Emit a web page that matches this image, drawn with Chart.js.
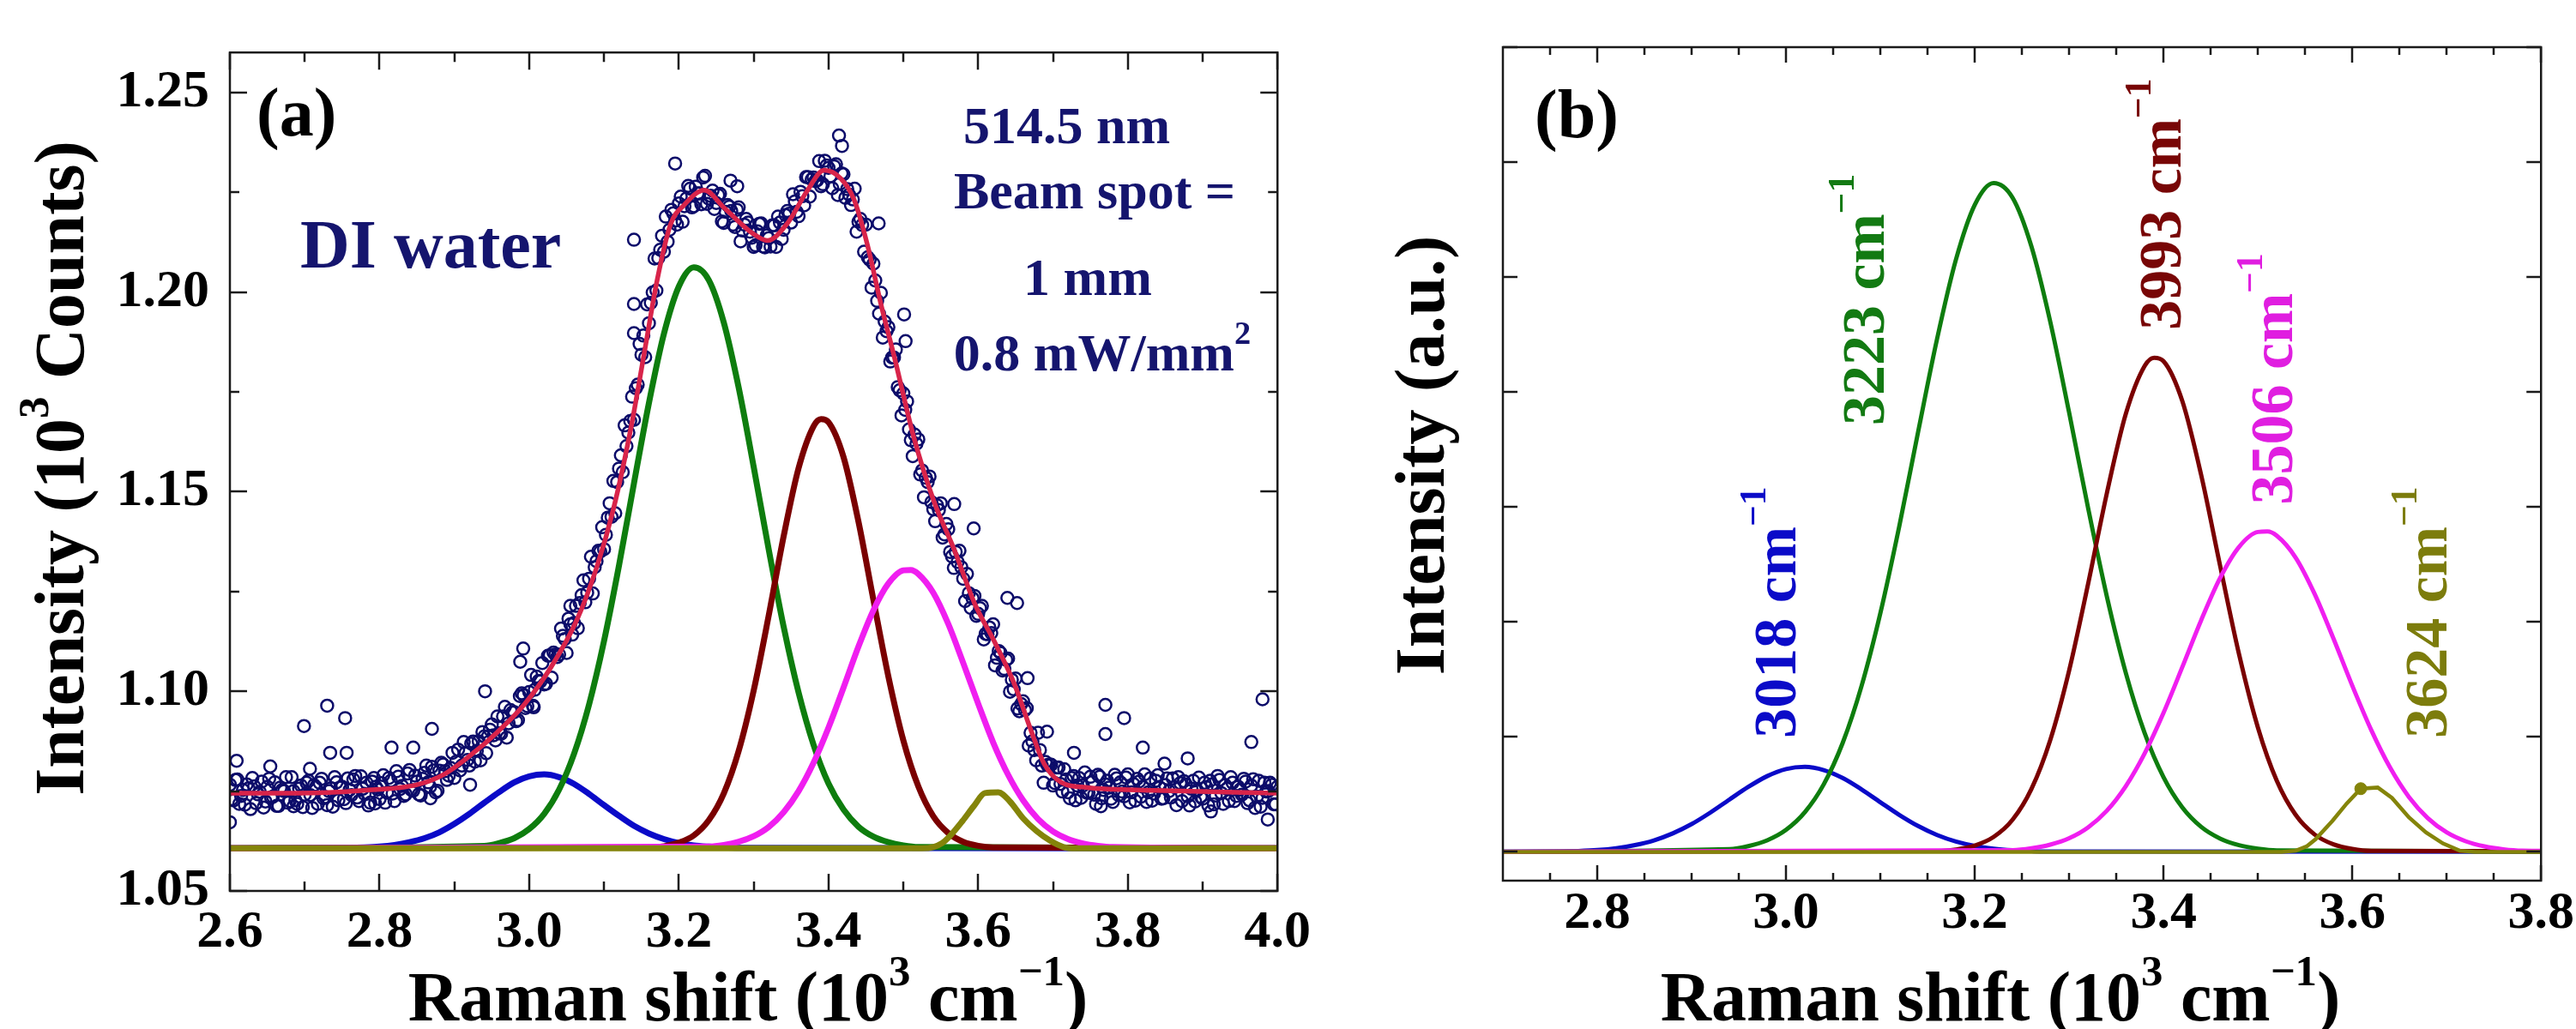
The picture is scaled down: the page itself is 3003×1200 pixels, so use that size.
<!DOCTYPE html>
<html>
<head>
<meta charset="utf-8">
<script src="https://cdn.jsdelivr.net/npm/chart.js@4.4.1/dist/chart.umd.min.js"></script>
<style>
  html, body { margin: 0; padding: 0; background: #fff; }
  #wrap { position: relative; width: 3003px; height: 1200px; }
  canvas { position: absolute; top: 0; }
  #chartA { left: 0; }
  #chartB { left: 1540px; }
</style>
</head>
<body>
<div id="wrap">
  <canvas id="chartA" width="1540" height="1200"></canvas>
  <canvas id="chartB" width="1463" height="1200"></canvas>
</div>
<script>
// ---- measured spectrum, panel (a) ----
var dataX = [
  2.600, 2.605, 2.610, 2.615, 2.620, 2.625, 2.630, 2.635, 2.640, 2.645,
  2.650, 2.655, 2.660, 2.665, 2.670, 2.675, 2.680, 2.685, 2.690, 2.695,
  2.700, 2.705, 2.710, 2.715, 2.720, 2.725, 2.730, 2.735, 2.740, 2.745,
  2.750, 2.755, 2.760, 2.765, 2.770, 2.775, 2.780, 2.785, 2.790, 2.795,
  2.800, 2.805, 2.810, 2.815, 2.820, 2.825, 2.830, 2.835, 2.840, 2.845,
  2.850, 2.855, 2.860, 2.865, 2.870, 2.875, 2.880, 2.885, 2.890, 2.895,
  2.900, 2.905, 2.910, 2.915, 2.920, 2.925, 2.930, 2.935, 2.940, 2.945,
  2.950, 2.955, 2.960, 2.965, 2.970, 2.975, 2.980, 2.985, 2.990, 2.995,
  3.000, 3.005, 3.010, 3.015, 3.020, 3.025, 3.030, 3.035, 3.040, 3.045,
  3.050, 3.055, 3.060, 3.065, 3.070, 3.075, 3.080, 3.085, 3.090, 3.095,
  3.100, 3.105, 3.110, 3.115, 3.120, 3.125, 3.130, 3.135, 3.140, 3.145,
  3.150, 3.155, 3.160, 3.165, 3.170, 3.175, 3.180, 3.185, 3.190, 3.195,
  3.200, 3.205, 3.210, 3.215, 3.220, 3.225, 3.230, 3.235, 3.240, 3.245,
  3.250, 3.255, 3.260, 3.265, 3.270, 3.275, 3.280, 3.285, 3.290, 3.295,
  3.300, 3.305, 3.310, 3.315, 3.320, 3.325, 3.330, 3.335, 3.340, 3.345,
  3.350, 3.355, 3.360, 3.365, 3.370, 3.375, 3.380, 3.385, 3.390, 3.395,
  3.400, 3.405, 3.410, 3.415, 3.420, 3.425, 3.430, 3.435, 3.440, 3.445,
  3.450, 3.455, 3.460, 3.465, 3.470, 3.475, 3.480, 3.485, 3.490, 3.495,
  3.500, 3.505, 3.510, 3.515, 3.520, 3.525, 3.530, 3.535, 3.540, 3.545,
  3.550, 3.555, 3.560, 3.565, 3.570, 3.575, 3.580, 3.585, 3.590, 3.595,
  3.600, 3.605, 3.610, 3.615, 3.620, 3.625, 3.630, 3.635, 3.640, 3.645,
  3.650, 3.655, 3.660, 3.665, 3.670, 3.675, 3.680, 3.685, 3.690, 3.695,
  3.700, 3.705, 3.710, 3.715, 3.720, 3.725, 3.730, 3.735, 3.740, 3.745,
  3.750, 3.755, 3.760, 3.765, 3.770, 3.775, 3.780, 3.785, 3.790, 3.795,
  3.800, 3.805, 3.810, 3.815, 3.820, 3.825, 3.830, 3.835, 3.840, 3.845,
  3.850, 3.855, 3.860, 3.865, 3.870, 3.875, 3.880, 3.885, 3.890, 3.895,
  3.900, 3.905, 3.910, 3.915, 3.920, 3.925, 3.930, 3.935, 3.940, 3.945,
  3.950, 3.955, 3.960, 3.965, 3.970, 3.975, 3.980, 3.985, 3.990, 3.995,
  4.000
];
var dataY = [
  1.0766, 1.0727, 1.0779, 1.0738, 1.0716, 1.0757, 1.0783, 1.0720, 1.0748, 1.0709,
  1.0761, 1.0734, 1.0772, 1.0713, 1.0753, 1.0785, 1.0725, 1.0750, 1.0718, 1.0764,
  1.0741, 1.0776, 1.0708, 1.0760, 1.0771, 1.0732, 1.0715, 1.0757, 1.0785, 1.0727,
  1.0761, 1.0720, 1.0753, 1.0779, 1.0734, 1.0787, 1.0743, 1.0714, 1.0774, 1.0761,
  1.0730, 1.0790, 1.0746, 1.0776, 1.0725, 1.0786, 1.0763, 1.0742, 1.0803, 1.0751,
  1.0774, 1.0739, 1.0796, 1.0772, 1.0811, 1.0747, 1.0801, 1.0817, 1.0778, 1.0808,
  1.0783, 1.0854, 1.0814, 1.0846, 1.0814, 1.0874, 1.0851, 1.0827, 1.0887, 1.0887,
  1.0917, 1.0877, 1.0895, 1.0937, 1.0884, 1.0953, 1.0948, 1.0928, 1.0995, 1.0958,
  1.0998, 1.0964, 1.1037, 1.1025, 1.1017, 1.1089, 1.1034, 1.1092, 1.1092, 1.1139,
  1.1096, 1.1168, 1.1171, 1.1158, 1.1241, 1.1223, 1.1282, 1.1245, 1.1326, 1.1350,
  1.1356, 1.1435, 1.1437, 1.1446, 1.1558, 1.1549, 1.1614, 1.1677, 1.1680, 1.1768,
  1.1843, 1.1837, 1.1922, 1.1999, 1.2004, 1.2106, 1.2101, 1.2126, 1.2206, 1.2179,
  1.2222, 1.2176, 1.2234, 1.2259, 1.2215, 1.2247, 1.2220, 1.2291, 1.2234, 1.2254,
  1.2223, 1.2246, 1.2173, 1.2218, 1.2203, 1.2163, 1.2212, 1.2154, 1.2183, 1.2151,
  1.2113, 1.2152, 1.2172, 1.2112, 1.2135, 1.2167, 1.2113, 1.2174, 1.2156, 1.2203,
  1.2174, 1.2227, 1.2190, 1.2240, 1.2288, 1.2239, 1.2287, 1.2280, 1.2265, 1.2329,
  1.2311, 1.2260, 1.2320, 1.2271, 1.2295, 1.2258, 1.2218, 1.2259, 1.2176, 1.2168,
  1.2169, 1.2081, 1.2071, 1.1978, 1.1998, 1.1926, 1.1912, 1.1836, 1.1856, 1.1754,
  1.1746, 1.1726, 1.1629, 1.1643, 1.1631, 1.1553, 1.1535, 1.1538, 1.1456, 1.1466,
  1.1471, 1.1393, 1.1406, 1.1338, 1.1349, 1.1352, 1.1282, 1.1294, 1.1209, 1.1239,
  1.1194, 1.1214, 1.1144, 1.1160, 1.1168, 1.1084, 1.1096, 1.1056, 1.1082, 1.1029,
  1.1032, 1.0950, 1.0975, 1.0958, 1.0896, 1.0853, 1.0896, 1.0814, 1.0823, 1.0817,
  1.0764, 1.0809, 1.0768, 1.0805, 1.0747, 1.0783, 1.0727, 1.0783, 1.0764, 1.0746,
  1.0786, 1.0741, 1.0791, 1.0732, 1.0767, 1.0759, 1.0723, 1.0782, 1.0772, 1.0737,
  1.0792, 1.0747, 1.0726, 1.0774, 1.0761, 1.0723, 1.0782, 1.0744, 1.0790, 1.0731,
  1.0765, 1.0750, 1.0782, 1.0715, 1.0770, 1.0775, 1.0737, 1.0756, 1.0724, 1.0784,
  1.0731, 1.0760, 1.0776, 1.0717, 1.0788, 1.0745, 1.0765, 1.0725, 1.0771, 1.0738,
  1.0754, 1.0781, 1.0720, 1.0764, 1.0708, 1.0776, 1.0733, 1.0749, 1.0771, 1.0717,
  1.0761
];
// in-between readings
var dataX2 = [
  2.6025, 2.6075, 2.6125, 2.6175, 2.6225, 2.6275, 2.6325, 2.6375, 2.6425, 2.6475,
  2.6525, 2.6575, 2.6625, 2.6675, 2.6725, 2.6775, 2.6825, 2.6875, 2.6925, 2.6975,
  2.7025, 2.7075, 2.7125, 2.7175, 2.7225, 2.7275, 2.7325, 2.7375, 2.7425, 2.7475,
  2.7525, 2.7575, 2.7625, 2.7675, 2.7725, 2.7775, 2.7825, 2.7875, 2.7925, 2.7975,
  2.8025, 2.8075, 2.8125, 2.8175, 2.8225, 2.8275, 2.8325, 2.8375, 2.8425, 2.8475,
  2.8525, 2.8575, 2.8625, 2.8675, 2.8725, 2.8775, 2.8825, 2.8875, 2.8925, 2.8975,
  2.9025, 2.9075, 2.9125, 2.9175, 2.9225, 2.9275, 2.9325, 2.9375, 2.9425, 2.9475,
  2.9525, 2.9575, 2.9625, 2.9675, 2.9725, 2.9775, 2.9825, 2.9875, 2.9925, 2.9975,
  3.0025, 3.0075, 3.0125, 3.0175, 3.0225, 3.0275, 3.0325, 3.0375, 3.0425, 3.0475,
  3.0525, 3.0575, 3.0625, 3.0675, 3.0725, 3.0775, 3.0825, 3.0875, 3.0925, 3.0975,
  3.1025, 3.1075, 3.1125, 3.1175, 3.1225, 3.1275, 3.1325, 3.1375, 3.1425, 3.1475,
  3.1525, 3.1575, 3.1625, 3.1675, 3.1725, 3.1775, 3.1825, 3.1875, 3.1925, 3.1975,
  3.2025, 3.2075, 3.2125, 3.2175, 3.2225, 3.2275, 3.2325, 3.2375, 3.2425, 3.2475,
  3.2525, 3.2575, 3.2625, 3.2675, 3.2725, 3.2775, 3.2825, 3.2875, 3.2925, 3.2975,
  3.3025, 3.3075, 3.3125, 3.3175, 3.3225, 3.3275, 3.3325, 3.3375, 3.3425, 3.3475,
  3.3525, 3.3575, 3.3625, 3.3675, 3.3725, 3.3775, 3.3825, 3.3875, 3.3925, 3.3975,
  3.4025, 3.4075, 3.4125, 3.4175, 3.4225, 3.4275, 3.4325, 3.4375, 3.4425, 3.4475,
  3.4525, 3.4575, 3.4625, 3.4675, 3.4725, 3.4775, 3.4825, 3.4875, 3.4925, 3.4975,
  3.5025, 3.5075, 3.5125, 3.5175, 3.5225, 3.5275, 3.5325, 3.5375, 3.5425, 3.5475,
  3.5525, 3.5575, 3.5625, 3.5675, 3.5725, 3.5775, 3.5825, 3.5875, 3.5925, 3.5975,
  3.6025, 3.6075, 3.6125, 3.6175, 3.6225, 3.6275, 3.6325, 3.6375, 3.6425, 3.6475,
  3.6525, 3.6575, 3.6625, 3.6675, 3.6725, 3.6775, 3.6825, 3.6875, 3.6925, 3.6975,
  3.7025, 3.7075, 3.7125, 3.7175, 3.7225, 3.7275, 3.7325, 3.7375, 3.7425, 3.7475,
  3.7525, 3.7575, 3.7625, 3.7675, 3.7725, 3.7775, 3.7825, 3.7875, 3.7925, 3.7975,
  3.8025, 3.8075, 3.8125, 3.8175, 3.8225, 3.8275, 3.8325, 3.8375, 3.8425, 3.8475,
  3.8525, 3.8575, 3.8625, 3.8675, 3.8725, 3.8775, 3.8825, 3.8875, 3.8925, 3.8975,
  3.9025, 3.9075, 3.9125, 3.9175, 3.9225, 3.9275, 3.9325, 3.9375, 3.9425, 3.9475,
  3.9525, 3.9575, 3.9625, 3.9675, 3.9725, 3.9775, 3.9825, 3.9875, 3.9925, 3.9975
];
var dataY2 = [
  1.0730, 1.0778, 1.0718, 1.0753, 1.0767, 1.0705, 1.0762, 1.0742, 1.0774, 1.0724,
  1.0781, 1.0736, 1.0713, 1.0759, 1.0750, 1.0721, 1.0785, 1.0727, 1.0756, 1.0710,
  1.0771, 1.0740, 1.0765, 1.0718, 1.0781, 1.0735, 1.0750, 1.0711, 1.0772, 1.0759,
  1.0730, 1.0782, 1.0740, 1.0788, 1.0725, 1.0756, 1.0771, 1.0721, 1.0783, 1.0754,
  1.0770, 1.0721, 1.0783, 1.0744, 1.0800, 1.0755, 1.0738, 1.0794, 1.0753, 1.0789,
  1.0742, 1.0781, 1.0814, 1.0761, 1.0802, 1.0751, 1.0821, 1.0800, 1.0789, 1.0846,
  1.0824, 1.0802, 1.0873, 1.0828, 1.0869, 1.0824, 1.0875, 1.0898, 1.0845, 1.0904,
  1.0890, 1.0937, 1.0894, 1.0961, 1.0920, 1.0947, 1.0925, 1.0988, 1.0990, 1.0963,
  1.1041, 1.1004, 1.1026, 1.1071, 1.1019, 1.1090, 1.1097, 1.1086, 1.1157, 1.1131,
  1.1182, 1.1142, 1.1214, 1.1221, 1.1278, 1.1247, 1.1337, 1.1311, 1.1352, 1.1411,
  1.1392, 1.1471, 1.1527, 1.1524, 1.1591, 1.1666, 1.1648, 1.1738, 1.1759, 1.1870,
  1.1891, 1.1969, 1.1973, 1.2084, 1.2085, 1.2141, 1.2189, 1.2156, 1.2197, 1.2169,
  1.2239, 1.2215, 1.2266, 1.2212, 1.2264, 1.2247, 1.2287, 1.2221, 1.2241, 1.2208,
  1.2243, 1.2177, 1.2201, 1.2214, 1.2169, 1.2206, 1.2127, 1.2169, 1.2174, 1.2136,
  1.2117, 1.2171, 1.2114, 1.2142, 1.2114, 1.2167, 1.2189, 1.2133, 1.2193, 1.2196,
  1.2245, 1.2201, 1.2251, 1.2217, 1.2288, 1.2282, 1.2278, 1.2328, 1.2270, 1.2317,
  1.2290, 1.2315, 1.2243, 1.2297, 1.2236, 1.2244, 1.2232, 1.2151, 1.2183, 1.2101,
  1.2087, 1.2011, 1.2029, 1.1946, 1.1886, 1.1902, 1.1826, 1.1836, 1.1762, 1.1691,
  1.1705, 1.1656, 1.1589, 1.1620, 1.1543, 1.1486, 1.1524, 1.1474, 1.1426, 1.1454,
  1.1385, 1.1419, 1.1349, 1.1309, 1.1324, 1.1311, 1.1226, 1.1246, 1.1233, 1.1189,
  1.1208, 1.1130, 1.1143, 1.1146, 1.1065, 1.1101, 1.1052, 1.1079, 1.0999, 1.1005,
  1.0957, 1.0968, 1.0953, 1.0864, 1.0875, 1.0827, 1.0853, 1.0771, 1.0815, 1.0816,
  1.0770, 1.0809, 1.0749, 1.0779, 1.0732, 1.0788, 1.0764, 1.0733, 1.0797, 1.0746,
  1.0773, 1.0718, 1.0786, 1.0753, 1.0776, 1.0731, 1.0791, 1.0740, 1.0749, 1.0784,
  1.0722, 1.0768, 1.0781, 1.0736, 1.0792, 1.0747, 1.0726, 1.0776, 1.0759, 1.0732,
  1.0782, 1.0734, 1.0760, 1.0785, 1.0725, 1.0767, 1.0714, 1.0776, 1.0752, 1.0736,
  1.0771, 1.0714, 1.0767, 1.0739, 1.0778, 1.0718, 1.0756, 1.0785, 1.0725, 1.0761,
  1.0741, 1.0774, 1.0727, 1.0780, 1.0736, 1.0711, 1.0771, 1.0750, 1.0766, 1.0717
];
// scattered points away from the band
var outX = [2.600, 2.609, 2.654, 2.685, 2.699, 2.707, 2.730, 2.734, 2.754, 2.756, 2.794, 2.816, 2.845,
            2.868, 2.870, 2.921, 2.941, 2.988, 2.992, 3.006, 3.055, 3.140, 3.140, 3.140, 3.195, 3.269,
            3.278, 3.414, 3.418, 3.467, 3.501, 3.503, 3.568, 3.594, 3.639, 3.652, 3.666, 3.692, 3.728,
            3.764, 3.770, 3.770, 3.795, 3.820, 3.849, 3.880, 3.911, 3.965, 3.980, 3.987];
var outY = [1.0672, 1.0826, 1.0812, 1.0712, 1.0913, 1.0806, 1.0964, 1.0846, 1.0933, 1.0846, 1.0719, 1.0859, 1.0859,
            1.0732, 1.0906, 1.0766, 1.1000, 1.1074, 1.1107, 1.0960, 1.1214, 1.2131, 1.1970, 1.1897, 1.2322, 1.2279,
            1.2265, 1.2392, 1.2366, 1.2172, 1.1944, 1.1877, 1.1469, 1.1408, 1.1234, 1.1221, 1.1033, 1.0899, 1.0846,
            1.0712, 1.0966, 1.0893, 1.0933, 1.0859, 1.0819, 1.0832, 1.0699, 1.0873, 1.0980, 1.0679];

// cumulative fit, panel (a)
var fitX = [2.600, 2.689, 2.779, 2.850, 2.886, 2.921, 2.957, 2.993, 3.029, 3.064, 3.091, 3.113, 3.136, 3.154,
            3.171, 3.189, 3.207, 3.234, 3.261, 3.300, 3.318, 3.345, 3.371, 3.394, 3.416, 3.434, 3.452, 3.470,
            3.488, 3.514, 3.541, 3.568, 3.595, 3.621, 3.648, 3.671, 3.688, 3.711, 3.746, 3.836, 4.000];
var fitY = [1.0745, 1.0745, 1.0752, 1.0766, 1.0792, 1.0839, 1.0897, 1.0966, 1.1060, 1.1180, 1.1315, 1.1460, 1.1660, 1.1850,
            1.2030, 1.2170, 1.2218, 1.2255, 1.2210, 1.2145, 1.2129, 1.2172, 1.2252, 1.2305, 1.2285, 1.2232, 1.2118, 1.1970,
            1.1837, 1.1636, 1.1475, 1.1355, 1.1221, 1.1127, 1.1020, 1.0900, 1.0819, 1.0772, 1.0759, 1.0752, 1.0745];

// fitted components: A = panel (a) counts, B = panel (b) a.u.
var blueX = [2.60, 2.76, 2.78, 2.80, 2.82, 2.84, 2.86, 2.88, 2.90, 2.92, 2.94, 2.96, 2.98, 3.00, 3.02,
             3.04, 3.06, 3.08, 3.10, 3.12, 3.14, 3.16, 3.18, 3.20, 3.22, 3.24, 3.26, 3.28, 4.00];
var blueA = [1.0607, 1.0608, 1.0609, 1.0611, 1.0615, 1.0622, 1.0632, 1.0647, 1.0668, 1.0693, 1.0721, 1.0748, 1.0772, 1.0787, 1.0792,
             1.0785, 1.0768, 1.0743, 1.0715, 1.0688, 1.0663, 1.0644, 1.0630, 1.0620, 1.0614, 1.0611, 1.0609, 1.0608, 1.0607];
var blueB = [0, 0.004, 0.008, 0.016, 0.032, 0.059, 0.100, 0.161, 0.242, 0.343, 0.455, 0.565, 0.659, 0.721, 0.740,
             0.712, 0.643, 0.544, 0.432, 0.322, 0.225, 0.147, 0.090, 0.052, 0.028, 0.014, 0.007, 0.003, 0];

var greenX = [2.60, 2.94, 2.96, 2.98, 3.00, 3.02, 3.04, 3.06, 3.08, 3.10, 3.12, 3.14, 3.16, 3.18, 3.20, 3.22,
              3.24, 3.26, 3.28, 3.30, 3.32, 3.34, 3.36, 3.38, 3.40, 3.42, 3.44, 3.46, 3.48, 3.50, 3.52, 4.00];
var greenA = [1.0607, 1.0613, 1.0620, 1.0632, 1.0655, 1.0693, 1.0754, 1.0844, 1.0967, 1.1126, 1.1315, 1.1521, 1.1722, 1.1895, 1.2014, 1.2062,
              1.2030, 1.1924, 1.1760, 1.1562, 1.1356, 1.1162, 1.0997, 1.0866, 1.0769, 1.0704, 1.0661, 1.0636, 1.0622, 1.0614, 1.0610, 1.0607];
var greenB = [0, 0.024, 0.050, 0.101, 0.192, 0.346, 0.588, 0.947, 1.442, 2.078, 2.833, 3.655, 4.460, 5.151, 5.629, 5.818,
              5.691, 5.267, 4.611, 3.820, 2.994, 2.220, 1.558, 1.034, 0.650, 0.386, 0.217, 0.116, 0.058, 0.028, 0.013, 0];

var maroonX = [2.60, 3.16, 3.18, 3.20, 3.22, 3.24, 3.26, 3.28, 3.30, 3.32, 3.34, 3.36, 3.38, 3.39,
               3.40, 3.42, 3.44, 3.46, 3.48, 3.50, 3.52, 3.54, 3.56, 3.58, 3.60, 3.62, 4.00];
var maroonA = [1.0607, 1.0609, 1.0612, 1.0621, 1.0639, 1.0677, 1.0744, 1.0851, 1.1002, 1.1189, 1.1388, 1.1559, 1.1664, 1.1682,
               1.1674, 1.1587, 1.1425, 1.1229, 1.1037, 1.0877, 1.0762, 1.0687, 1.0645, 1.0623, 1.0613, 1.0609, 1.0607];
var maroonB = [0, 0.007, 0.021, 0.055, 0.130, 0.279, 0.547, 0.974, 1.579, 2.328, 3.122, 3.809, 4.227, 4.298,
               4.268, 3.919, 3.274, 2.488, 1.720, 1.082, 0.619, 0.322, 0.152, 0.066, 0.026, 0.009, 0];

var magentaX = [2.60, 3.24, 3.26, 3.28, 3.30, 3.32, 3.34, 3.36, 3.38, 3.40, 3.42, 3.44, 3.46, 3.48, 3.50, 3.51,
                3.52, 3.54, 3.56, 3.58, 3.60, 3.62, 3.64, 3.66, 3.68, 3.70, 3.72, 3.74, 3.76, 3.78, 4.00];
var magentaA = [1.0607, 1.0611, 1.0615, 1.0623, 1.0637, 1.0660, 1.0697, 1.0750, 1.0821, 1.0909, 1.1009, 1.1112, 1.1203, 1.1270, 1.1303, 1.1304,
                1.1294, 1.1247, 1.1169, 1.1071, 1.0969, 1.0872, 1.0791, 1.0727, 1.0680, 1.0649, 1.0630, 1.0619, 1.0613, 1.0610, 1.0607];
var magentaB = [0, 0.015, 0.031, 0.063, 0.119, 0.213, 0.359, 0.572, 0.857, 1.210, 1.610, 2.018, 2.384, 2.653, 2.783, 2.787,
                2.750, 2.560, 2.246, 1.857, 1.446, 1.062, 0.734, 0.478, 0.294, 0.170, 0.093, 0.048, 0.023, 0.011, 0];

var oliveX = [2.60, 3.525, 3.540, 3.552, 3.561, 3.579, 3.594, 3.609, 3.627, 3.642, 3.660, 3.678, 3.696, 3.714, 3.730, 4.00];
var oliveA = [1.0607, 1.0607, 1.0610, 1.0620, 1.0635, 1.0675, 1.0712, 1.0745, 1.0747, 1.0725, 1.0682, 1.0650, 1.0626, 1.0610, 1.0607, 1.0607];
var oliveB = [0, 0, 0.01, 0.05, 0.11, 0.27, 0.42, 0.55, 0.56, 0.47, 0.30, 0.17, 0.074, 0.01, 0, 0];
var oliveDotX = [3.609];
var oliveDotB = [0.55];

// ticks
var xMajorA = [2.6, 2.8, 3.0, 3.2, 3.4, 3.6, 3.8, 4.0];
var xMinorA = [2.7, 2.9, 3.1, 3.3, 3.5, 3.7, 3.9];
var yMajorA = [1.05, 1.10, 1.15, 1.20, 1.25];
var yMinorA = [1.075, 1.125, 1.175, 1.225];
var xMajorB = [2.8, 3.0, 3.2, 3.4, 3.6, 3.8];
var xMinorB = [2.75, 2.85, 2.9, 2.95, 3.05, 3.1, 3.15, 3.25, 3.3, 3.35, 3.45, 3.5, 3.55, 3.65, 3.7, 3.75];
var yMajorB = [0, 1, 2, 3, 4, 5, 6, 7];

// peak labels, panel (b)
var peakText = ['3018 cm', '3223 cm', '3993 cm', '3506 cm', '3624 cm'];
var peakColor = ['#0b0bc8', '#137a13', '#780606', '#e01ee0', '#7c7c0c'];
var peakAtX = [3.010, 3.104, 3.418, 3.536, 3.700];
var peakAtY = [0.99, 3.71, 4.54, 3.02, 0.99];

var FONT = '"Liberation Serif", "Times New Roman", serif';
var NAVY = '#15156e';
var C_BLUE = '#0a0ac8', C_GREEN = '#0e7d0e', C_MAROON = '#7a0000', C_MAGENTA = '#f01ef0', C_OLIVE = '#84840a';

function pairs(xs, ys) {
  return xs.map(function (x, i) { return { x: x, y: ys[i] }; });
}

function setFont(ctx, size) { ctx.font = 'bold ' + size + 'px ' + FONT; }

// parts: [text, isSuperscript]
function drawRich(ctx, parts, size, x, y, align, angle) {
  ctx.save();
  ctx.translate(x, y);
  if (angle) ctx.rotate(angle);
  ctx.textAlign = 'left';
  ctx.textBaseline = 'alphabetic';
  var w = 0;
  parts.forEach(function (p) {
    setFont(ctx, p[1] ? size * 0.62 : size);
    w += ctx.measureText(p[0]).width;
  });
  var cx = align === 'center' ? -w / 2 : 0;
  parts.forEach(function (p) {
    setFont(ctx, p[1] ? size * 0.62 : size);
    ctx.fillText(p[0], cx, p[1] ? -size * 0.5 : 0);
    cx += ctx.measureText(p[0]).width;
  });
  ctx.restore();
}

function frameAndTicks(chart, xMaj, xMin, yMaj, yMin, lens) {
  var ctx = chart.ctx, a = chart.chartArea, sx = chart.scales.x, sy = chart.scales.y;
  ctx.save();
  ctx.strokeStyle = '#1a1a1a';
  ctx.lineWidth = 2.5;
  ctx.beginPath();
  function vert(list, len) {
    list.forEach(function (v) {
      var p = Math.round(sx.getPixelForValue(v));
      ctx.moveTo(p, a.bottom); ctx.lineTo(p, a.bottom - len);
      ctx.moveTo(p, a.top); ctx.lineTo(p, a.top + len);
    });
  }
  function horiz(list, len) {
    list.forEach(function (v) {
      var p = Math.round(sy.getPixelForValue(v));
      ctx.moveTo(a.left, p); ctx.lineTo(a.left + len, p);
      ctx.moveTo(a.right, p); ctx.lineTo(a.right - len, p);
    });
  }
  vert(xMaj, lens[0]); vert(xMin, lens[1]);
  horiz(yMaj, lens[2]); horiz(yMin, lens[3]);
  ctx.stroke();
  ctx.strokeRect(a.left, a.top, a.right - a.left, a.bottom - a.top);
  ctx.restore();
}

function curve(label, xs, ys, color, width, order) {
  return {
    label: label, data: pairs(xs, ys), borderColor: color, backgroundColor: color,
    borderWidth: width, pointRadius: 0, cubicInterpolationMode: 'monotone', fill: false, order: order
  };
}

function tickFont(size) { return { family: FONT, size: size, weight: 'bold' }; }

var decorA = {
  id: 'decorA',
  afterDraw: function (chart) {
    var ctx = chart.ctx;
    frameAndTicks(chart, xMajorA, xMinorA, yMajorA, yMinorA, [20, 11, 20, 11]);
    ctx.save();
    ctx.fillStyle = '#000';
    drawRich(ctx, [['(a)', 0]], 80, 299, 158, 'left');
    drawRich(ctx, [['Intensity (10', 0], ['3', 1], [' Counts)', 0]], 82, 97, 546, 'center', -Math.PI / 2);
    drawRich(ctx, [['Raman shift (10', 0], ['3', 1], [' cm', 0], ['\u22121', 1], [')', 0]], 82, 872, 1190, 'center');
    ctx.fillStyle = NAVY;
    drawRich(ctx, [['DI water', 0]], 80, 350, 312, 'left');
    drawRich(ctx, [['514.5 nm', 0]], 62, 1123, 167, 'left');
    drawRich(ctx, [['Beam spot =', 0]], 62, 1112, 243, 'left');
    drawRich(ctx, [['1 mm', 0]], 62, 1268, 344, 'center');
    drawRich(ctx, [['0.8 mW/mm', 0], ['2', 1]], 62, 1285, 432, 'center');
    ctx.restore();
  }
};

var decorB = {
  id: 'decorB',
  afterDraw: function (chart) {
    var ctx = chart.ctx, sx = chart.scales.x, sy = chart.scales.y;
    frameAndTicks(chart, xMajorB, xMinorB, yMajorB, [], [18, 9, 17, 0]);
    ctx.save();
    ctx.fillStyle = '#000';
    drawRich(ctx, [['(b)', 0]], 80, 249, 160, 'left');
    drawRich(ctx, [['Intensity (a.u.)', 0]], 82, 143, 531, 'center', -Math.PI / 2);
    drawRich(ctx, [['Raman shift (10', 0], ['3', 1], [' cm', 0], ['\u22121', 1], [')', 0]], 82, 792, 1190, 'center');
    peakText.forEach(function (t, i) {
      ctx.fillStyle = peakColor[i];
      drawRich(ctx, [[t, 0], ['\u22121', 1]], 70,
        sx.getPixelForValue(peakAtX[i]), sy.getPixelForValue(peakAtY[i]), 'left', -Math.PI / 2);
    });
    ctx.restore();
  }
};

var scatterSet = {
  label: 'DI water',
  data: pairs(dataX.concat(dataX2, outX), dataY.concat(dataY2, outY)),
  showLine: false,
  pointRadius: 7,
  pointBorderWidth: 2.5,
  pointBorderColor: '#0c0c6a',
  pointBackgroundColor: 'rgba(255,255,255,0)',
  order: 1
};

new Chart(document.getElementById('chartA'), {
  type: 'line',
  data: {
    datasets: [
      curve('Fit', fitX, fitY, '#d8244a', 5.5, 0),
      scatterSet,
      curve('3624', oliveX, oliveA, C_OLIVE, 7, 2),
      curve('3506', magentaX, magentaA, C_MAGENTA, 7, 3),
      curve('3393', maroonX, maroonA, C_MAROON, 7, 4),
      curve('3223', greenX, greenA, C_GREEN, 7, 5),
      curve('3018', blueX, blueA, C_BLUE, 7, 6)
    ]
  },
  options: {
    responsive: false, animation: false, devicePixelRatio: 1,
    layout: { padding: { left: 118, right: 40, top: 53, bottom: 0 } },
    plugins: { legend: { display: false }, tooltip: { enabled: false } },
    scales: {
      x: {
        type: 'linear', min: 2.6, max: 4.0,
        afterBuildTicks: function (s) { s.ticks = xMajorA.map(function (v) { return { value: v }; }); },
        afterFit: function (s) { s.height = 161; },
        grid: { display: false, drawTicks: false }, border: { display: false },
        ticks: { font: tickFont(62), color: '#000', padding: 12, maxRotation: 0, autoSkip: false,
                 callback: function (v) { return v.toFixed(1); } }
      },
      y: {
        type: 'linear', min: 1.05, max: 1.26,
        afterBuildTicks: function (s) { s.ticks = yMajorA.map(function (v) { return { value: v }; }); },
        afterFit: function (s) { s.width = 150; },
        grid: { display: false, drawTicks: false }, border: { display: false },
        ticks: { font: tickFont(62), color: '#000', padding: 24, autoSkip: false,
                 callback: function (v) { return v.toFixed(2); } }
      }
    }
  },
  plugins: [decorA]
});

new Chart(document.getElementById('chartB'), {
  type: 'line',
  data: {
    datasets: [
      { label: 'peak', data: pairs(oliveDotX, oliveDotB), showLine: false, pointRadius: 7,
        pointBackgroundColor: C_OLIVE, pointBorderColor: C_OLIVE, order: 0 },
      Object.assign(curve('3624', oliveX, oliveB, C_OLIVE, 4.5, 1), { cubicInterpolationMode: 'default', tension: 0 }),
      curve('3506', magentaX, magentaB, C_MAGENTA, 5, 2),
      curve('3393', maroonX, maroonB, C_MAROON, 5, 3),
      curve('3223', greenX, greenB, C_GREEN, 5, 4),
      curve('3018', blueX, blueB, C_BLUE, 5, 5)
    ]
  },
  options: {
    responsive: false, animation: false, devicePixelRatio: 1,
    layout: { padding: { left: 112, right: 40, top: 55, bottom: 0 } },
    plugins: { legend: { display: false }, tooltip: { enabled: false } },
    scales: {
      x: {
        type: 'linear', min: 2.7, max: 3.8,
        afterBuildTicks: function (s) { s.ticks = xMajorB.map(function (v) { return { value: v }; }); },
        afterFit: function (s) { s.height = 173; },
        grid: { display: false, drawTicks: false }, border: { display: false },
        ticks: { font: tickFont(62), color: '#000', padding: 2, maxRotation: 0, autoSkip: false,
                 callback: function (v) { return v.toFixed(1); } }
      },
      y: {
        type: 'linear', min: -0.25, max: 7,
        afterBuildTicks: function (s) { s.ticks = yMajorB.map(function (v) { return { value: v }; }); },
        afterFit: function (s) { s.width = 100; },
        grid: { display: false, drawTicks: false }, border: { display: false },
        ticks: { display: false }
      }
    }
  },
  plugins: [decorB]
});
</script>
</body>
</html>
